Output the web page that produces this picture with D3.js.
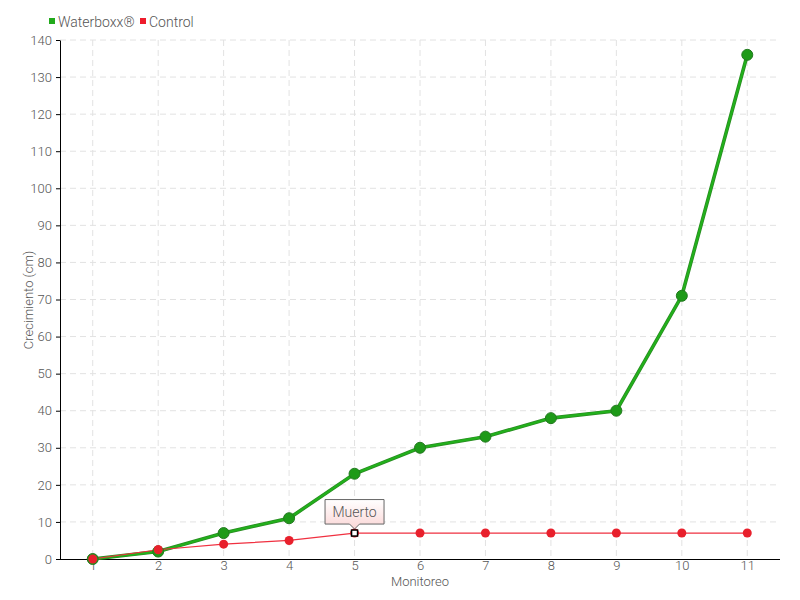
<!DOCTYPE html>
<html><head><meta charset="utf-8">
<script src="https://cdn.jsdelivr.net/npm/d3@7"></script>
<style>
body{margin:0;background:#fff;}
text{font-family:Roboto,"Liberation Sans",sans-serif;font-weight:300;fill:#555;}
</style></head>
<body><svg id="c" width="800" height="600"></svg>
<script>
const categories = ["1","2","3","4","5","6","7","8","9","10","11"];
const waterboxx = [0, 2, 7, 11, 23, 30, 33, 38, 40, 71, 136];
const control = [0, 2.5, 4, 5, 7, 7, 7, 7, 7, 7, 7];
const yTicks = [0,10,20,30,40,50,60,70,80,90,100,110,120,130,140];
const seriesNames = ["Waterboxx®","Control"];
const annotation = {index: 4, label: "Muerto"};

const svg = d3.select("#c");
const m = {l:60, r:20, t:40, b:41};
const W = 800, H = 600;
const x = d3.scalePoint().domain(categories).range([m.l, W-m.r]).padding(0.5);
const y = d3.scaleLinear().domain([0,140]).range([H-m.b, m.t]);

// grid
const g = svg.append("g");
g.selectAll(".hg").data(yTicks.slice(1)).join("line")
 .attr("x1", m.l).attr("x2", W-m.r).attr("y1", d=>y(d)).attr("y2", d=>y(d))
 .attr("stroke","#e2e2e2").attr("stroke-dasharray","6,4");
g.selectAll(".vg").data(categories).join("line")
 .attr("x1", d=>x(d)).attr("x2", d=>x(d)).attr("y1", m.t).attr("y2", H-m.b)
 .attr("stroke","#e2e2e2").attr("stroke-dasharray","6,4");

// axes
const ya = svg.append("g").attr("transform",`translate(${m.l},0)`)
 .call(d3.axisLeft(y).tickValues(yTicks).tickSize(4).tickSizeOuter(0));
ya.select(".domain").attr("stroke","#000");
ya.selectAll(".tick line").attr("stroke","#000");
ya.selectAll("text").attr("font-size",13).attr("fill","#555").attr("dx","-1");
const xa = svg.append("g").attr("transform",`translate(0,${H-m.b})`)
 .call(d3.axisBottom(x).tickSize(0).tickSizeOuter(0));
xa.select(".domain").attr("stroke","#000").attr("d",`M${m.l},0.5H${W-m.r}`);
xa.selectAll("text").attr("font-size",13).attr("fill","#555").attr("dy","0.6em");

// axis titles
svg.append("text").attr("x",420).attr("y",586).attr("text-anchor","middle")
 .attr("font-size",13).text("Monitoreo");
svg.append("text").attr("transform","translate(33,300) rotate(-90)").attr("text-anchor","middle")
 .attr("font-size",13).text("Crecimiento (cm)");

const line = d3.line().x((d,i)=>x(categories[i])).y(d=>y(d));

// waterboxx
svg.append("path").datum(waterboxx).attr("d",line).attr("fill","none")
 .attr("stroke","#2a8a22").attr("stroke-width",3.6);
svg.append("path").datum(waterboxx).attr("d",line).attr("fill","none")
 .attr("stroke","#22b01c").attr("stroke-width",2.2);
// control
svg.append("path").datum(control).attr("d",line).attr("fill","none")
 .attr("stroke","#f03040").attr("stroke-width",1.2);

svg.selectAll(".cp").data(control).join("circle")
 .attr("cx",(d,i)=>x(categories[i])).attr("cy",d=>y(d)).attr("r",4.5)
 .attr("fill","#e8202c");
svg.selectAll(".wp").data(waterboxx).join("circle")
 .attr("cx",(d,i)=>x(categories[i])).attr("cy",d=>y(d)).attr("r",5.5)
 .attr("fill","#1e9a18").attr("stroke","#237a20").attr("stroke-width",1);
svg.selectAll(".cp2").data(control.slice(0,2)).join("circle")
 .attr("cx",(d,i)=>x(categories[i])).attr("cy",d=>y(d)).attr("r",4.5)
 .attr("fill","#e8202c");

// annotation
const ax = x(categories[annotation.index]), ay = y(control[annotation.index]);
const defs = svg.append("defs");
const gr = defs.append("linearGradient").attr("id","ag").attr("x1",0).attr("x2",0).attr("y1",0).attr("y2",1);
gr.append("stop").attr("offset","0").attr("stop-color","#ffffff");
gr.append("stop").attr("offset","1").attr("stop-color","#fbd6d6");
const bw=60, bh=25, by=ay-34;
svg.append("path")
 .attr("d",`M${ax-bw/2+0.5},${by+0.5}H${ax+bw/2-0.5}V${by+bh}H${ax+5}L${ax},${by+bh+5}L${ax-5},${by+bh}H${ax-bw/2+0.5}Z`)
 .attr("fill","url(#ag)").attr("stroke","#666").attr("stroke-width",1);
svg.append("text").attr("x",ax).attr("y",by+18).attr("text-anchor","middle")
 .attr("font-size",14).attr("fill","#444").text(annotation.label);
svg.append("rect").attr("x",ax-3).attr("y",ay-3).attr("width",6).attr("height",6)
 .attr("fill","#fff").attr("stroke","#000").attr("stroke-width",1.5);

// legend
const lg = svg.append("g");
const legCols = ["#22aa1c","#ee1c2c"];
const lx = [49, 140];
seriesNames.forEach((n,i)=>{
  lg.append("rect").attr("x",lx[i]).attr("y",18).attr("width",6).attr("height",6).attr("fill",legCols[i]);
  lg.append("text").attr("x",lx[i]+9).attr("y",26.5).attr("font-size",14).text(n);
});
</script></body></html>
